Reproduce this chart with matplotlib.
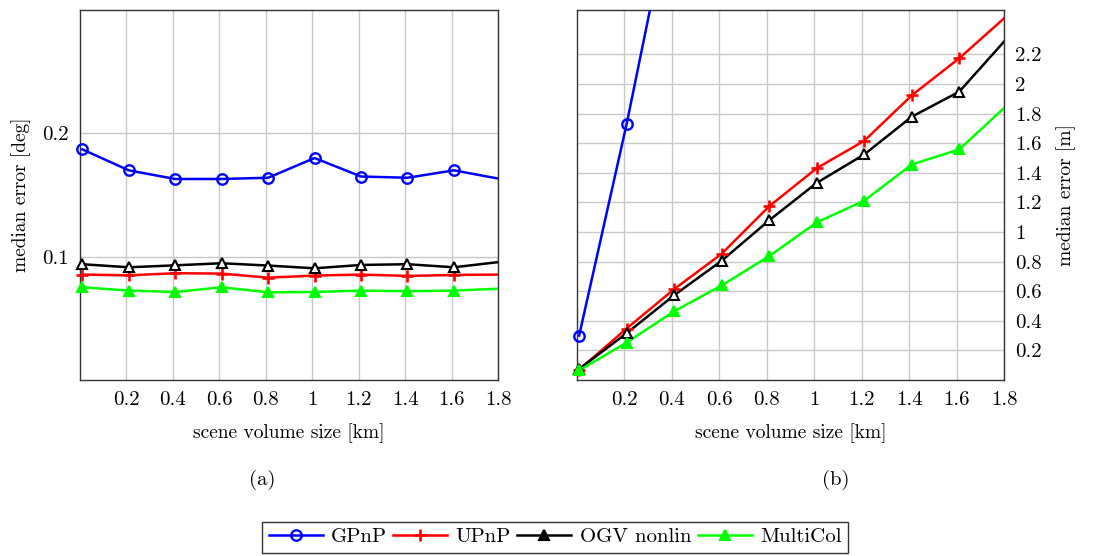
import numpy as np
import matplotlib
matplotlib.use("Agg")
import matplotlib.pyplot as plt
from matplotlib.lines import Line2D

plt.rcParams["font.family"] = ["cmr10", "DejaVu Serif"]
plt.rcParams["axes.formatter.use_mathtext"] = True

# scene volume size [km]
sizes = [0.01, 0.21, 0.41, 0.61, 0.81, 1.01, 1.21, 1.41, 1.61, 1.81]

# (a) median rotation error [deg]
rot_gpnp = [0.187, 0.170, 0.163, 0.163, 0.164, 0.180, 0.165, 0.164, 0.170, 0.163]
rot_upnp = [0.0855, 0.0849, 0.0866, 0.0863, 0.0830, 0.0847, 0.0855, 0.0844, 0.0852, 0.0855]
rot_ogv = [0.0939, 0.0914, 0.0930, 0.0947, 0.0928, 0.0906, 0.0933, 0.0939, 0.0914, 0.0958]
rot_multicol = [0.0752, 0.0725, 0.0714, 0.0752, 0.0711, 0.0714, 0.0725, 0.0720, 0.0725, 0.0741]

# (b) median translation error [m]
trans_gpnp = [0.30, 1.73, 3.30, np.nan, np.nan, np.nan, np.nan, np.nan, np.nan, np.nan]
trans_upnp = [0.07, 0.348, 0.614, 0.853, 1.174, 1.431, 1.616, 1.923, 2.174, 2.46]
trans_ogv = [0.075, 0.316, 0.573, 0.806, 1.079, 1.332, 1.524, 1.779, 1.948, 2.307]
trans_multicol = [0.065, 0.253, 0.465, 0.639, 0.837, 1.065, 1.212, 1.456, 1.558, 1.855]

labels = ["GPnP", "UPnP", "OGV nonlin", "MultiCol"]
styles = [
    dict(color="#0000ff", marker="o", ms=7.5, mfc="none", mew=1.7),
    dict(color="#ff0000", marker="+", ms=9, mew=1.9),
    dict(color="#000000", marker="^", ms=7, mfc="white", mew=1.5),
    dict(color="#00ff00", marker="^", ms=7, mfc="#00ff00", mew=1.5),
]

xticks = [0.2, 0.4, 0.6, 0.8, 1.0, 1.2, 1.4, 1.6, 1.8]
xticklabels = ["0.2", "0.4", "0.6", "0.8", "1", "1.2", "1.4", "1.6", "1.8"]

fig = plt.figure(figsize=(11.07, 5.56), dpi=100)
ax_a = fig.add_axes([0.0723, 0.3165, 0.3776, 0.6655])
ax_b = fig.add_axes([0.5210, 0.3165, 0.3863, 0.6655])


def draw(ax, series, ylim):
    x = np.array(sizes)
    for values, st in zip(series, styles):
        y = np.array(values, dtype=float)
        ax.plot(x, y, color=st["color"], lw=1.8, zorder=3)
        # markers outside the plotted range are dropped, the rest may overhang the frame
        keep = (x <= 1.8) & (y >= ylim[0]) & (y <= ylim[1])
        ax.plot(x[keep], y[keep], ls="none", clip_on=False, zorder=4, **st)
    ax.set_xlim(0, 1.8)
    ax.set_ylim(*ylim)
    ax.set_xticks(xticks)
    ax.set_xticklabels(xticklabels)
    ax.grid(True, color="#c8c8c8", lw=1.0, zorder=0)
    ax.set_axisbelow(True)
    ax.tick_params(length=0, labelsize=15, pad=8)
    for sp in ax.spines.values():
        sp.set_color("#333333")
        sp.set_linewidth(1.0)
    ax.set_xlabel("scene volume size [km]", fontsize=14, labelpad=10)


draw(ax_a, [rot_gpnp, rot_upnp, rot_ogv, rot_multicol], (0, 0.3))
ax_a.set_yticks([0.1, 0.2])
ax_a.set_yticklabels(["0.1", "0.2"])
ax_a.set_ylabel("median error [deg]", fontsize=14, labelpad=8)

draw(ax_b, [trans_gpnp, trans_upnp, trans_ogv, trans_multicol], (0, 2.5))
ax_b.set_yticks([0.2, 0.4, 0.6, 0.8, 1.0, 1.2, 1.4, 1.6, 1.8, 2.0, 2.2])
ax_b.set_yticklabels(["0.2", "0.4", "0.6", "0.8", "1", "1.2", "1.4", "1.6", "1.8", "2", "2.2"])
ax_b.yaxis.tick_right()
ax_b.yaxis.set_label_position("right")
ax_b.set_ylabel("median error [m]", fontsize=14, labelpad=10)

fig.text(0.2366, 0.137, "(a)", ha="center", va="center", fontsize=15)
fig.text(0.7552, 0.137, "(b)", ha="center", va="center", fontsize=15)

handles = [Line2D([], [], lw=1.8, **st) for st in styles]
handles[2].set_markerfacecolor("black")
leg = fig.legend(handles, labels, loc="center", bbox_to_anchor=(0.5014, 0.034), ncol=4,
                 fontsize=15, frameon=True, fancybox=False, edgecolor="black",
                 handlelength=2.6, handletextpad=0.4, columnspacing=0.3,
                 borderpad=0.3, numpoints=1)
leg.get_frame().set_linewidth(1.0)

fig.savefig("out.png", dpi=100)
